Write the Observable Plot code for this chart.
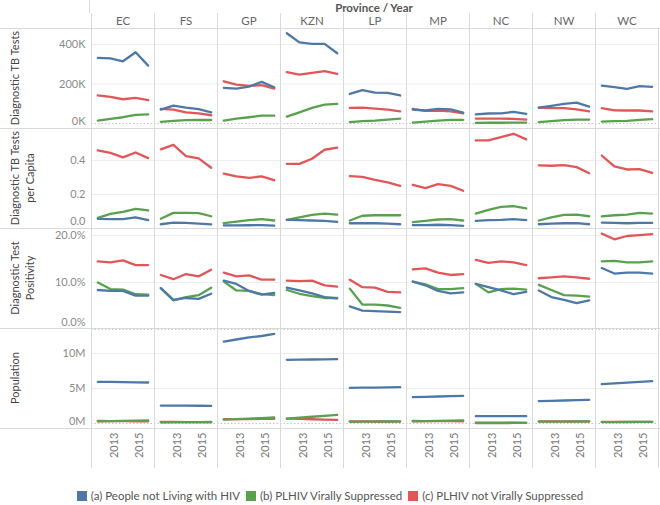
<!DOCTYPE html>
<html>
<head>
<meta charset="utf-8">
<script src="https://cdn.jsdelivr.net/npm/d3@7"></script>
<script src="https://cdn.jsdelivr.net/npm/@observablehq/plot@0.6"></script>
<style>
  body { margin: 0; background: #fff; font-family: Lato, "Open Sans", sans-serif; }
  #chart { position: relative; width: 660px; height: 505px; overflow: hidden; background: #fff; }
  .abs { position: absolute; left: 0; }
  .hline { position: absolute; left: 0; width: 660px; height: 1px; background: #d9d9d9; }
  #title { position: absolute; top: 1px; left: 89px; width: 570px; text-align: center;
           font-size: 11.5px; font-weight: bold; color: #555; }
  #legend { position: absolute; top: 489px; left: 0; width: 660px; display: flex; justify-content: center;
            font-size: 11.5px; color: #555; }
  #legend .item { display: flex; align-items: center; margin: 0 3px; }
  #legend .sw { width: 10px; height: 10px; margin-right: 4px; }
</style>
</head>
<body>
<div id="chart"></div>
<script>
// ---------- data ----------
const provinces = ["EC", "FS", "GP", "KZN", "LP", "MP", "NC", "NW", "WC"];
const years = [2012, 2013, 2014, 2015, 2016];
const yearTicks = [2013, 2015];
const groups = ["(a) People not Living with HIV", "(b) PLHIV Virally Suppressed", "(c) PLHIV not Virally Suppressed"];
const colors = ["#4e79a7", "#59a14f", "#e15759"];

// Diagnostic TB Tests (thousands), rows = provinces, cols = years
const testsA = [[332,330,315,361,293],[71,91,81,73,57],[181,177,187,211,184],[457,411,403,403,356],[150,169,157,155,142],[71,66,74,72,56],[46,51,52,59,49],[81,90,100,106,86],[192,184,176,189,186]];
const testsB = [[15,24,32,44,46],[9,14,17,19,18],[15,25,32,40,40],[35,57,79,96,100],[7,12,15,20,25],[5,10,15,19,19],[3,4,4,5,5],[7,12,17,20,20],[10,12,14,19,22]];
const testsC = [[143,135,123,130,118],[74,71,57,51,42],[214,197,191,194,177],[260,248,256,265,251],[79,81,76,71,62],[74,64,66,62,52],[25,25,25,24,20],[81,78,78,72,62],[78,67,66,66,62]];

// Diagnostic TB Tests per Capita
const capitaA = [[0.057,0.055,0.055,0.065,0.049],[0.025,0.035,0.033,0.029,0.024],[0.018,0.018,0.019,0.02,0.017],[0.051,0.049,0.047,0.045,0.039],[0.031,0.031,0.031,0.029,0.025],[0.02,0.02,0.022,0.02,0.016],[0.045,0.049,0.051,0.055,0.049],[0.025,0.029,0.031,0.031,0.025],[0.035,0.033,0.031,0.033,0.033]];
const capitaB = [[0.063,0.086,0.098,0.116,0.106],[0.057,0.092,0.092,0.09,0.072],[0.031,0.041,0.049,0.055,0.047],[0.051,0.066,0.08,0.088,0.082],[0.047,0.075,0.078,0.078,0.078],[0.037,0.045,0.053,0.055,0.047],[0.088,0.11,0.127,0.131,0.118],[0.047,0.065,0.08,0.082,0.072],[0.071,0.078,0.082,0.092,0.088]];
const capitaC = [[0.459,0.445,0.418,0.447,0.414],[0.465,0.492,0.425,0.412,0.357],[0.322,0.306,0.298,0.306,0.284],[0.38,0.38,0.41,0.463,0.475],[0.308,0.304,0.286,0.271,0.251],[0.257,0.237,0.261,0.251,0.222],[0.518,0.518,0.537,0.557,0.524],[0.371,0.369,0.373,0.361,0.325],[0.429,0.365,0.347,0.349,0.327]];

// Diagnostic Test Positivity (percent)
const positivityA = [[8.4,8.2,8.2,7.2,7.2],[8.8,6.3,6.7,6.5,7.6],[10.4,9.7,8.2,7.4,7.8],[8.9,8.3,7.7,6.9,6.6],[4.9,4.0,3.9,3.8,3.7],[10.2,9.4,8.2,7.7,7.9],[9.7,9.0,8.3,7.5,8.0],[8.3,6.9,6.3,5.6,6.2],[13.1,11.9,12.1,12.1,11.9]];
const positivityB = [[10.0,8.6,8.5,7.5,7.4],[8.8,6.2,6.9,7.3,8.9],[10.2,8.3,8.2,7.5,7.3],[8.4,7.6,7.1,6.7,6.7],[8.7,5.3,5.3,5.1,4.6],[10.2,9.6,8.6,8.6,8.8],[9.7,7.9,8.6,8.7,8.5],[9.5,8.4,7.3,7.2,7.0],[14.5,14.6,14.3,14.3,14.5]];
const positivityC = [[14.5,14.3,14.7,13.7,13.7],[11.6,10.7,11.8,11.3,12.7],[12.1,11.3,11.5,10.6,10.6],[10.4,10.3,10.4,9.4,9.1],[10.6,9.0,8.9,8.0,7.9],[12.8,13.0,12.1,11.6,11.8],[14.8,14.2,14.5,14.3,13.7],[10.9,11.1,11.3,11.1,10.8],[20.4,19.2,19.9,20.1,20.3]];

// Population (millions)
const populationA = [[5.96,5.94,5.92,5.89,5.86],[2.57,2.56,2.55,2.54,2.52],[11.7,12.0,12.3,12.5,12.8],[9.10,9.12,9.14,9.17,9.19],[5.10,5.12,5.14,5.17,5.19],[3.76,3.81,3.86,3.90,3.95],[1.05,1.05,1.06,1.05,1.05],[3.19,3.24,3.29,3.33,3.38],[5.62,5.73,5.84,5.94,6.05]];
const populationB = [[0.30,0.33,0.37,0.40,0.43],[0.18,0.19,0.20,0.21,0.22],[0.55,0.62,0.70,0.78,0.86],[0.70,0.84,0.97,1.10,1.24],[0.25,0.26,0.27,0.29,0.30],[0.30,0.33,0.37,0.40,0.43],[0.06,0.07,0.07,0.08,0.08],[0.26,0.27,0.28,0.29,0.30],[0.20,0.21,0.22,0.23,0.24]];
const populationC = [[0.36,0.35,0.33,0.32,0.30],[0.22,0.22,0.21,0.21,0.20],[0.62,0.63,0.64,0.66,0.67],[0.71,0.66,0.61,0.56,0.52],[0.30,0.30,0.29,0.29,0.28],[0.36,0.35,0.34,0.33,0.31],[0.12,0.12,0.11,0.11,0.10],[0.31,0.31,0.30,0.30,0.29],[0.25,0.25,0.24,0.24,0.23]];

// ---------- build ----------
function build(a, b, c) {
  const out = [];
  // draw order: c, b, a
  [[c, groups[2]], [b, groups[1]], [a, groups[0]]].forEach(([arr, g]) => {
    provinces.forEach((p, i) => years.forEach((y, j) => out.push({province: p, year: y, group: g, value: arr[i][j]})));
  });
  return out;
}

const measures = [
  {label: ["Diagnostic TB Tests"], data: build(testsA, testsB, testsC), domain: [-25, 481], ticks: [0, 200, 400], fmt: d => d + "K", zeroDy: -2},
  {label: ["Diagnostic TB Tests", "per Capita"], data: build(capitaA, capitaB, capitaC), domain: [0, 0.588], ticks: [0, 0.2, 0.4], fmt: d3.format(".1f"), zeroDy: -7},
  {label: ["Diagnostic Test", "Positivity"], data: build(positivityA, positivityB, positivityC), domain: [0.2, 21.5], ticks: [0, 10, 20], fmt: d => d.toFixed(1) + "%", zeroDy: -7},
  {label: ["Population"], data: build(populationA, populationB, populationC), domain: [-0.71, 13.57], ticks: [0, 5, 10], fmt: d => d + "M", zeroDy: -2}
];

const FONT = "Lato, 'Open Sans', sans-serif";
const SEP = "#d9d9d9";
const xDomain = [2011.5, 2016.5];
const ML = 89, MR = 1;
const chart = document.getElementById("chart");

function place(node, top) {
  const d = document.createElement("div");
  d.className = "abs";
  d.style.top = top + "px";
  d.appendChild(node);
  chart.appendChild(d);
}

// title
const title = document.createElement("div");
title.id = "title";
title.textContent = "Province / Year";
chart.appendChild(title);

// header with province names
place(Plot.plot({
  width: 660, height: 15, marginLeft: ML, marginRight: MR, marginTop: 0, marginBottom: 0,
  style: {background: "transparent", fontFamily: FONT, fontSize: "11.5px", overflow: "visible"},
  fx: {domain: provinces, padding: 0, axis: null},
  x: {domain: xDomain, axis: null},
  marks: [
    Plot.ruleX(provinces, {fx: d => d, x: xDomain[0], stroke: SEP}),
    Plot.text(provinces, {fx: d => d, text: d => d, frameAnchor: "middle", fill: "#666"})
  ]
}), 13);

// measure rows
measures.forEach((m, i) => {
  const zeroTick = m.ticks.filter(t => t === 0);
  const otherTicks = m.ticks.filter(t => t !== 0);
  place(Plot.plot({
    width: 660, height: 100, marginLeft: ML, marginRight: MR, marginTop: 0, marginBottom: 0,
    style: {background: "transparent", fontFamily: FONT, fontSize: "11px", overflow: "visible"},
    fx: {domain: provinces, padding: 0, axis: null},
    x: {domain: xDomain, axis: null},
    y: {domain: m.domain},
    color: {domain: groups, range: colors},
    marks: [
      Plot.gridY(otherTicks, {stroke: "#eeeeee", strokeOpacity: 1}),
      Plot.ruleY([0], {stroke: "#c4c4c4", strokeDasharray: "1.5,2"}),
      Plot.ruleX(provinces, {fx: d => d, x: xDomain[0], stroke: SEP}),
      Plot.ruleX(["WC"], {fx: d => d, x: xDomain[1], stroke: SEP}),
      Plot.axisY({ticks: otherTicks, tickSize: 0, tickPadding: 6, tickFormat: m.fmt, color: "#8a8a8a", label: null}),
      Plot.axisY({ticks: zeroTick, tickSize: 0, tickPadding: 6, tickFormat: m.fmt, color: "#8a8a8a", label: null, dy: m.zeroDy}),
      Plot.lineY(m.data, {fx: "province", x: "year", y: "value", z: "group", stroke: "group", strokeWidth: 2.3})
    ]
  }), 28 + 100 * i);
});

// year axis
const yearLabels = [];
provinces.forEach(p => yearTicks.forEach(y => yearLabels.push({province: p, year: y})));
place(Plot.plot({
  width: 660, height: 40, marginLeft: ML, marginRight: MR, marginTop: 0, marginBottom: 0,
  style: {background: "transparent", fontFamily: FONT, fontSize: "11px", overflow: "visible"},
  fx: {domain: provinces, padding: 0, axis: null},
  x: {domain: xDomain, axis: null},
  marks: [
    Plot.ruleX(provinces, {fx: d => d, x: xDomain[0], stroke: SEP}),
    Plot.ruleX(["WC"], {fx: d => d, x: xDomain[1], stroke: SEP}),
    Plot.text(yearLabels, {fx: "province", x: "year", text: d => String(d.year), frameAnchor: "top",
      rotate: -90, textAnchor: "end", dy: 4, fill: "#777"})
  ]
}), 428);

// separators
[28, 128, 228, 328, 428].forEach(t => {
  const h = document.createElement("div");
  h.className = "hline";
  h.style.top = t + "px";
  chart.appendChild(h);
});
const v = document.createElement("div");
v.style.cssText = `position:absolute;left:${ML}px;top:0;width:1px;height:13px;background:${SEP}`;
chart.appendChild(v);

// row labels
const svg = d3.select(chart).append("svg")
  .attr("width", 660).attr("height", 505)
  .style("position", "absolute").style("left", 0).style("top", 0).style("pointer-events", "none");
measures.forEach((m, i) => {
  const cy = 28 + 100 * i + 50;
  m.label.forEach((line, k) => {
    svg.append("text")
      .attr("transform", `translate(${14 + 15 * k},${cy}) rotate(-90)`)
      .attr("text-anchor", "middle").attr("dominant-baseline", "central")
      .attr("font-family", FONT).attr("font-size", 11).attr("fill", "#444")
      .text(line);
  });
});

// legend
const legend = document.createElement("div");
legend.id = "legend";
groups.forEach((g, i) => {
  const it = document.createElement("div");
  it.className = "item";
  const sw = document.createElement("div");
  sw.className = "sw";
  sw.style.background = colors[i];
  const tx = document.createElement("span");
  tx.textContent = g;
  it.appendChild(sw); it.appendChild(tx);
  legend.appendChild(it);
});
chart.appendChild(legend);
</script>
</body>
</html>
